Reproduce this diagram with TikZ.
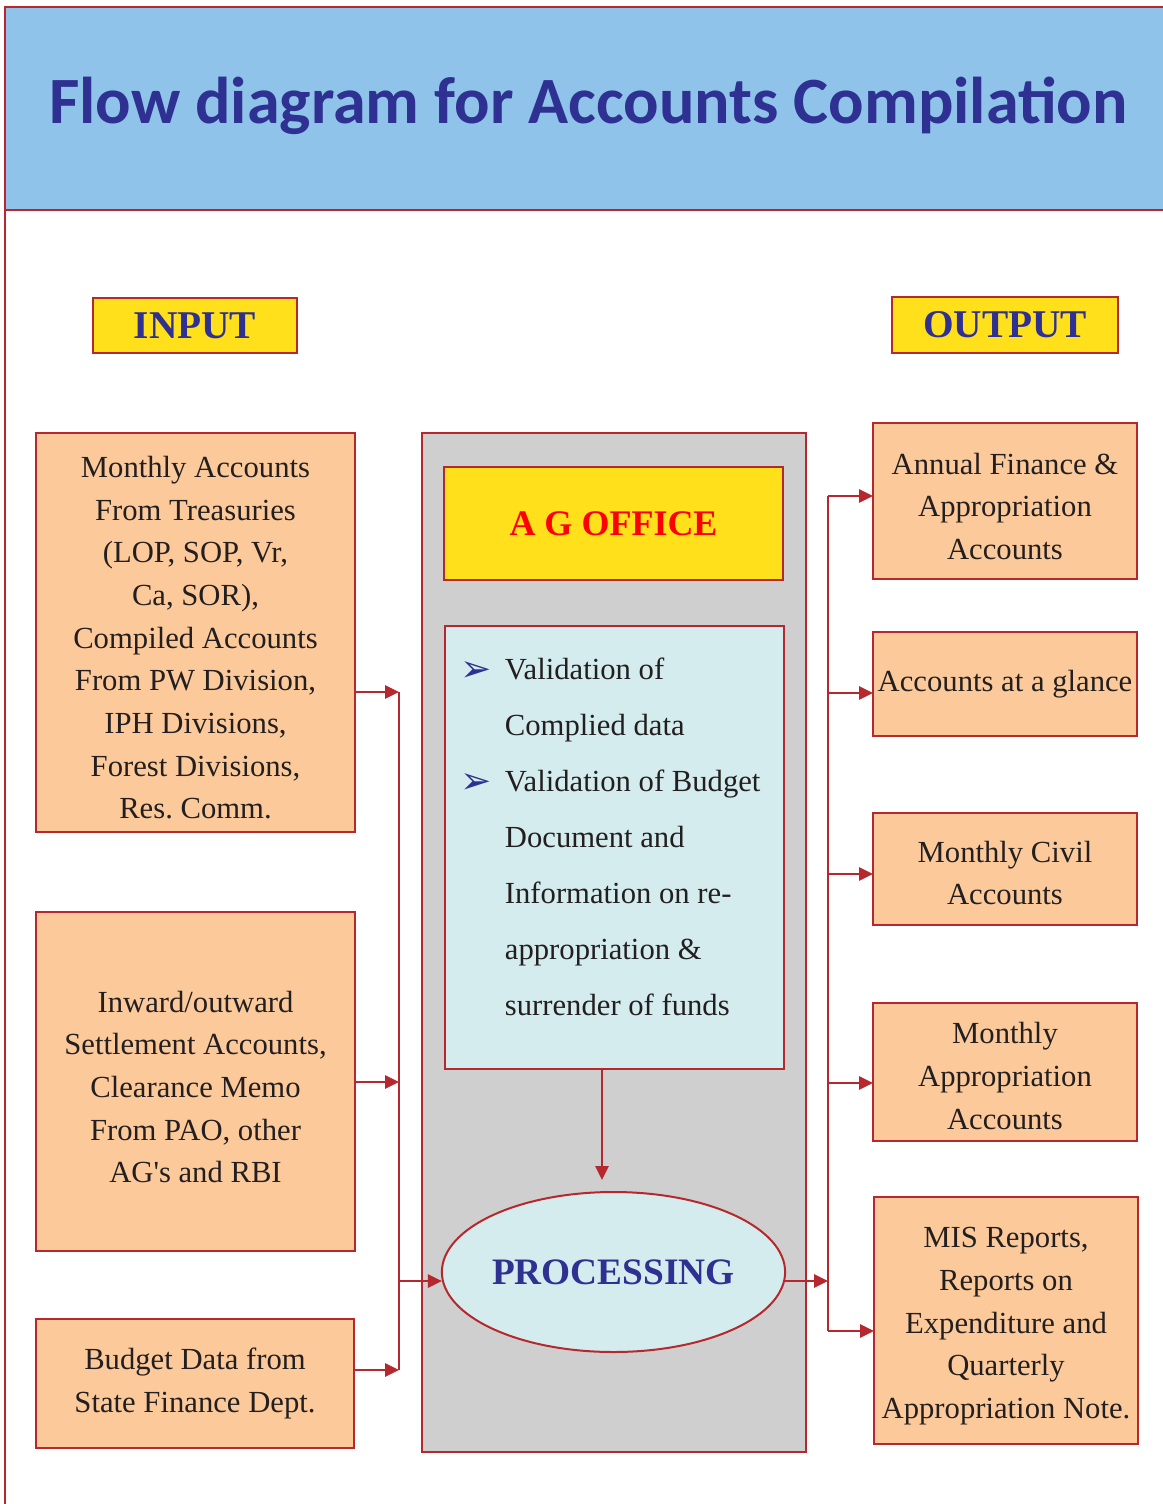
\documentclass[tikz,border=0pt]{standalone}
\usepackage{fontspec}
\setmainfont{Liberation Serif}
\newfontfamily\headfont{Carlito}
\newfontfamily\symfont{DejaVu Sans}
\usepackage{tikz}
\usetikzlibrary{positioning, arrows.meta, shapes.geometric}

\definecolor{redline}{HTML}{B7282E}
\definecolor{peach}{HTML}{FCCA9A}
\definecolor{hiyellow}{HTML}{FFE01B}
\definecolor{panelgray}{HTML}{D0CFCF}
\definecolor{paleblue}{HTML}{D4ECEE}
\definecolor{navy}{HTML}{2E3192}
\definecolor{skyblue}{HTML}{8FC3E9}
\definecolor{inktext}{HTML}{231F20}

\newcommand{\pointer}{\makebox[32pt][l]{\hspace*{-1pt}\raisebox{-1.5pt}{\textcolor{navy}{\symfont\fontsize{28}{28}\selectfont ➢}}}}
\newcommand{\indentline}{\hspace*{32pt}}
\frenchspacing

\begin{document}
\begin{tikzpicture}[x=0.75pt, y=-0.75pt,
  box/.style={draw=redline, line width=1.5pt, fill=peach, inner sep=0pt, outer sep=0pt,
    align=center, text=inktext, font=\fontsize{23}{32}\selectfont},
  tag/.style={draw=redline, line width=1.5pt, fill=hiyellow, inner sep=0pt, outer sep=0pt,
    text=navy, font=\bfseries\fontsize{29.5}{32}\selectfont},
  flow/.style={draw=redline, line width=1.5pt, -{Triangle[length=10.5pt,width=10pt]}},
  link/.style={draw=redline, line width=1.5pt}]
\useasboundingbox (0,0) rectangle (1163,1504);
% title band and frame
\fill[skyblue] (5,7) rectangle (1163,210);
\draw[redline, line width=1.2pt] (1163,7) -- (5,7) -- (5,1504);
\draw[redline, line width=1.2pt] (5,210) -- (1163,210);
\node[text=navy, font=\headfont\bfseries\fontsize{49.6}{50}\selectfont] (title) at (588.5,106)
  {Flow diagram for Accounts Compilation};
% headings
\node[tag, minimum width=153pt, minimum height=41.25pt] (input) at (195,325.5) {INPUT};
\node[tag, minimum width=169.5pt, minimum height=42pt] (output) at (1005,325) {OUTPUT};
% input boxes
\node[box, minimum width=239.25pt, minimum height=299.25pt] (in1) at (195.5,632.5)
  {\rule{0pt}{24pt}Monthly Accounts\\From Treasuries\\(LOP, SOP, Vr,\\Ca, SOR),\\Compiled Accounts\\From PW Division,\\IPH Divisions,\\Forest Divisions,\\Res. Comm.};
\node[box, minimum width=239.25pt, minimum height=254.25pt] (in2) at (195.5,1081.5)
  {\rule{0pt}{24pt}Inward/outward\\Settlement Accounts,\\Clearance Memo\\From PAO, other\\AG\textquotesingle s and RBI};
\node[box, minimum width=238.5pt, minimum height=96.75pt] (in3) at (195,1383.5)
  {Budget Data from\\State Finance Dept.};
% AG office panel
\node[draw=redline, line width=1.5pt, fill=panelgray, inner sep=0pt, minimum width=288pt,
  minimum height=764.25pt] (panel) at (614,942.5) {};
\node[tag, text=red, minimum width=254.25pt, minimum height=84.75pt,
  font=\bfseries\fontsize{27}{30}\selectfont] (agoffice) at (613.5,523.5) {A G OFFICE};
\node[draw=redline, line width=1.5pt, fill=paleblue, inner sep=0pt, outer sep=0pt,
  minimum width=254.25pt, minimum height=332.25pt] (valid) at (614.5,847.5) {};
\node[below right=24pt and 12.75pt of valid.north west, inner sep=0pt, align=left,
  text=inktext, font=\fontsize{23}{42}\selectfont] (validtext)
  {\pointer Validation of\\ \indentline Complied data\\ \pointer Validation of Budget\\
   \indentline Document and\\ \indentline Information on re-\\ \indentline appropriation \&\\
   \indentline surrender of funds};
\node[ellipse, draw=redline, line width=1.5pt, fill=paleblue, inner sep=0pt, outer sep=0pt,
  minimum width=254.25pt, minimum height=120pt, text=navy,
  font=\bfseries\fontsize{28}{30}\selectfont] (proc) at (613.5,1272) {PROCESSING};
% output boxes
\node[box, minimum width=198pt, minimum height=117pt] (out1) at (1005,501)
  {\rule{0pt}{24pt}Annual Finance \&\\Appropriation\\Accounts};
\node[box, minimum width=198pt, minimum height=78pt] (out2) at (1005,684)
  {Accounts at a glance};
\node[box, minimum width=198pt, minimum height=84pt] (out3) at (1005,869)
  {\rule{0pt}{22pt}Monthly Civil\\Accounts};
\node[box, minimum width=198pt, minimum height=103.5pt] (out4) at (1005,1072)
  {\rule{0pt}{22pt}Monthly\\Appropriation\\Accounts};
\node[box, minimum width=198pt, minimum height=185.25pt] (out5) at (1006,1320.5)
  {\rule{0pt}{24pt}MIS Reports,\\Reports on\\Expenditure and\\Quarterly\\Appropriation Note.};
% collector points
\coordinate (cin1) at (399,692);
\coordinate (cin2) at (399,1082);
\coordinate (cin3) at (399,1370);
\coordinate (cproc) at (399,1281);
\coordinate (cdown) at (602,1180);
\coordinate (cout) at (828,1281);
\coordinate (co1) at (828,496);
\coordinate (co2) at (828,693);
\coordinate (co3) at (828,874);
\coordinate (co4) at (828,1083);
\coordinate (co5) at (828,1331);
% input side
\draw[link] (cin1) -- (cin3);
\draw[flow] (in1.east |- cin1) -- (cin1);
\draw[flow] (in2.east |- cin2) -- (cin2);
\draw[flow] (in3.east |- cin3) -- (cin3);
\draw[flow] (cproc) -- (proc.west |- cproc);
% processing
\draw[flow] (valid.south -| cdown) -- (cdown);
% output side
\draw[flow] (proc.east |- cout) -- (cout);
\draw[link] (co1) -- (co5);
\foreach \i in {1,...,5}
  \draw[flow] (co\i) -- (out\i.west |- co\i);
\end{tikzpicture}
\end{document}
